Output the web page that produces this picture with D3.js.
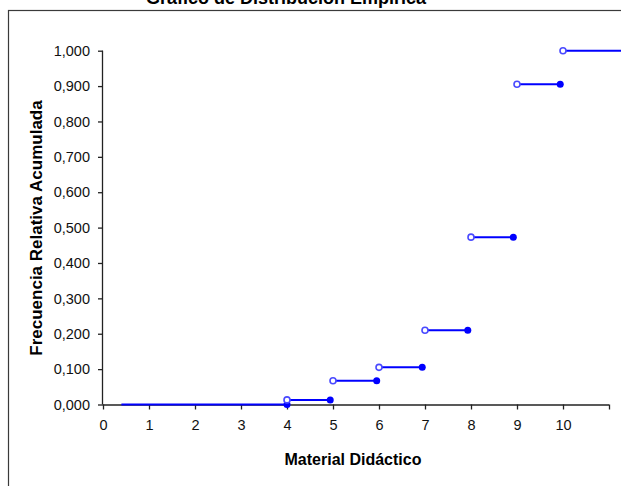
<!DOCTYPE html>
<html>
<head>
<meta charset="utf-8">
<script src="https://cdn.jsdelivr.net/npm/d3@7"></script>
<style>
  html, body { margin: 0; padding: 0; background: #fff; }
  svg { display: block; }
  text { font-family: "Liberation Sans", Arial, sans-serif; }
</style>
</head>
<body>
<svg id="chart" width="621" height="486"></svg>
<script>
// ---- data ----
const titleText = "Gráfico de Distribución Empírica";
const xLabel = "Material Didáctico";
const yLabel = "Frecuencia Relativa Acumulada";

// step segments: open point at start, filled point at end
const stepStart = [4, 5, 6, 7, 8, 9, 10];
const stepEnd   = [4.94, 5.95, 6.94, 7.93, 8.92, 9.94, 11.4];
const cumFreq   = [0.013, 0.067, 0.105, 0.210, 0.473, 0.905, 1.000];
const hasFilledEnd = [true, true, true, true, true, true, false];

// initial zero segment
const zeroStart = 0.4;
const zeroEnd = 4;

const xTicks = [0, 1, 2, 3, 4, 5, 6, 7, 8, 9, 10, 11];
const xTickLabels = ["0", "1", "2", "3", "4", "5", "6", "7", "8", "9", "10", ""];
const yTicks = [0, 0.1, 0.2, 0.3, 0.4, 0.5, 0.6, 0.7, 0.8, 0.9, 1.0];
const yTickLabels = ["0,000", "0,100", "0,200", "0,300", "0,400", "0,500", "0,600", "0,700", "0,800", "0,900", "1,000"];

// ---- drawing ----
const svg = d3.select("#chart");
const blue = "#0000ff";
const openStroke = "#4a4aff";

// frame
svg.append("rect")
  .attr("x", 8.5).attr("y", 10.5)
  .attr("width", 700).attr("height", 600)
  .attr("fill", "none").attr("stroke", "#3a3a3a").attr("stroke-width", 1.2);

// title
svg.append("text")
  .attr("x", 286).attr("y", 4)
  .attr("text-anchor", "middle")
  .attr("font-weight", "bold")
  .attr("font-size", "18px")
  .text(titleText);

const x = d3.scaleLinear().domain([0, 11]).range([103, 609]);
const y = d3.scaleLinear().domain([0, 1]).range([404.5, 50.7]);

// axes
const yAxis = d3.axisLeft(y)
  .tickValues(yTicks)
  .tickFormat((d, i) => yTickLabels[i])
  .tickSize(5).tickPadding(8);
const gy = svg.append("g").attr("transform", `translate(${x(0)},0)`).call(yAxis);

const xAxis = d3.axisBottom(x)
  .tickValues(xTicks)
  .tickFormat((d, i) => xTickLabels[i])
  .tickSize(5).tickPadding(10);
const gx = svg.append("g").attr("transform", `translate(0,${y(0)})`).call(xAxis);

[gx, gy].forEach(g => {
  g.select(".domain").attr("stroke", "#222").attr("stroke-width", 1.3);
  g.selectAll(".tick line").attr("stroke", "#222").attr("stroke-width", 1.3);
  g.selectAll(".tick text")
    .attr("fill", "#111")
    .attr("font-size", "14.5px")
    .attr("font-family", "'Liberation Sans', Arial, sans-serif");
});
gx.select(".domain").attr("d", `M${x(0)},0.5H${x(11)}`);
gy.select(".domain").attr("d", `M-0.5,${y(1)}V${y(0)}`);

// axis titles
svg.append("text")
  .attr("x", 353).attr("y", 465)
  .attr("text-anchor", "middle")
  .attr("font-weight", "bold")
  .attr("font-size", "16px")
  .text(xLabel);

svg.append("text")
  .attr("transform", `translate(42,228) rotate(-90)`)
  .attr("text-anchor", "middle")
  .attr("font-weight", "bold")
  .attr("font-size", "17px")
  .text(yLabel);

// zero segment
svg.append("line")
  .attr("x1", x(zeroStart)).attr("x2", x(zeroEnd))
  .attr("y1", y(0)).attr("y2", y(0))
  .attr("stroke", blue).attr("stroke-width", 2);
svg.append("circle")
  .attr("cx", x(zeroEnd)).attr("cy", y(0)).attr("r", 3.5)
  .attr("fill", blue);

// step segments
const steps = stepStart.map((s, i) => ({ s, e: stepEnd[i], v: cumFreq[i], f: hasFilledEnd[i] }));
const g = svg.append("g");
g.selectAll("line.seg").data(steps).join("line")
  .attr("class", "seg")
  .attr("x1", d => x(d.s)).attr("x2", d => x(d.e))
  .attr("y1", d => y(d.v)).attr("y2", d => y(d.v))
  .attr("stroke", blue).attr("stroke-width", 2);
g.selectAll("circle.filled").data(steps.filter(d => d.f)).join("circle")
  .attr("class", "filled")
  .attr("cx", d => x(d.e)).attr("cy", d => y(d.v)).attr("r", 3.5)
  .attr("fill", blue);
g.selectAll("circle.open").data(steps).join("circle")
  .attr("class", "open")
  .attr("cx", d => x(d.s)).attr("cy", d => y(d.v)).attr("r", 3)
  .attr("fill", "#fff").attr("stroke", openStroke).attr("stroke-width", 1.6);
</script>
</body>
</html>
